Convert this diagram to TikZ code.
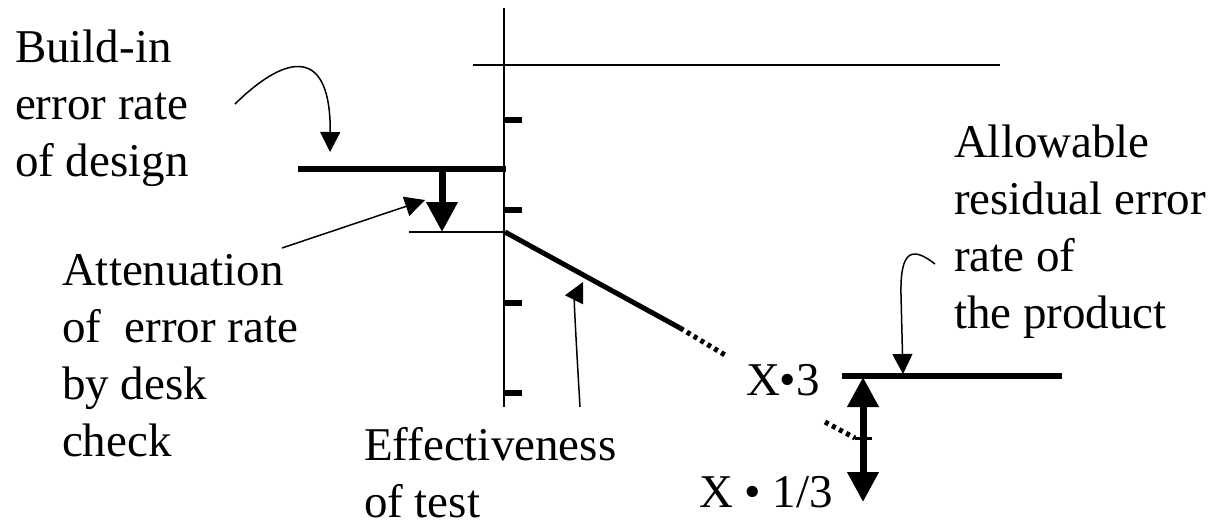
\documentclass[tikz,border=0pt]{standalone}
\usepackage{fontspec}
\setmainfont{Liberation Serif}
\usetikzlibrary{arrows.meta}
\tikzset{
  lbl/.style={anchor=base west, inner sep=0pt, outer sep=0pt, font=\fontsize{47}{57}\selectfont},
  thinln/.style={line width=1.5pt},
  thickln/.style={line width=6pt},
  tickln/.style={line width=6.5pt},
  thinarrow/.style={line width=1.5pt, -{Triangle[length=20pt,width=20pt]}},
  bigarrow/.style={line width=7pt, -{Triangle[length=30pt,width=30pt]}},
  dotln/.style={line width=5pt, dash pattern=on 4pt off 4pt},
}
\begin{document}
\begin{tikzpicture}[x=1pt,y=-1pt]
\useasboundingbox (0,0) rectangle (1214,523);
% axes and reference lines
\coordinate (axTop) at (504,8);
\coordinate (axBot) at (504,407);
\draw[thinln] (axTop) -- (axBot);
\coordinate (topL) at (473,65);
\coordinate (topR) at (1000,65);
\draw[thinln] (topL) -- (topR);
% ticks
\foreach \y/\n in {120/t1,210/t2,303/t3,393/t4}{
  \coordinate (\n a) at (505,\y);
  \coordinate (\n b) at (522,\y);
  \draw[tickln] (\n a) -- (\n b);
}
% build-in level
\coordinate (bL) at (298,169);
\coordinate (bR) at (506,169);
\draw[thickln] (bL) -- (bR);
% attenuated level
\coordinate (aL) at (409,232);
\coordinate (aR) at (505,232);
\draw[thinln] (aL) -- (aR);
% attenuation arrow
\coordinate (dA) at (442,169);
\coordinate (dB) at (442,232);
\draw[bigarrow] (dA) -- (dB);
% test effectiveness slope
\coordinate (s1) at (680,328);
\coordinate (s2) at (725,355);
\draw[line width=5pt] (aR) -- (s1);
\draw[dotln] (s1) -- (s2);
\coordinate (s3) at (825,422);
\coordinate (s4) at (855,438);
\draw[dotln] (s3) -- (s4);
\coordinate (tk1) at (855,438);
\coordinate (tk2) at (872,438);
\draw[line width=3pt] (tk1) -- (tk2);
% allowable level
\coordinate (pL) at (842,376);
\coordinate (pR) at (1062,376);
\draw[thickln] (pL) -- (pR);
% double arrow
\coordinate (dm) at (863,438);
\coordinate (dUp) at (863,377);
\coordinate (dDn) at (863,502);
\draw[bigarrow] (dm) -- (dUp);
\draw[bigarrow] (dm) -- (dDn);
% labels
\node[lbl] (build) at (15,62) {\vtop{\hbox{Build-in}\hbox{error rate}\hbox{of design}}};
\node[lbl] (atten) at (62,285) {\vtop{\hbox{Attenuation}\hbox{of\ \ error rate}\hbox{by desk}\hbox{check}}};
\node[lbl] (allow) at (954,157) {\vtop{\hbox{Allowable}\hbox{residual error}\hbox{rate of}\hbox{the product}}};
\node[lbl] (effect) at (364,460) {\vtop{\hbox{Effectiveness}\hbox{of test}}};
\node[lbl] (x3) at (746,395) {X•3};
\node[lbl] (x13) at (699,507) {X • 1/3};
% pointer arrows
\coordinate (c1s) at (235,104);
\coordinate (c1e) at (330,152);
\draw[thinarrow] (c1s) .. controls (290,50) and (331,50) .. (c1e);
\coordinate (c2s) at (282,248);
\coordinate (c2e) at (425,200);
\draw[thinarrow] (c2s) -- (c2e);
\coordinate (c3s) at (580,407);
\coordinate (c3e) at (583,282);
\draw[thinarrow] (c3s) .. controls (576,340) and (574,300) .. (c3e);
\coordinate (c4s) at (935,264);
\coordinate (c4e) at (903,374);
\draw[thinarrow] (c4s) .. controls (912,246) and (900,250) .. (901,295) -- (c4e);
\end{tikzpicture}
\end{document}
